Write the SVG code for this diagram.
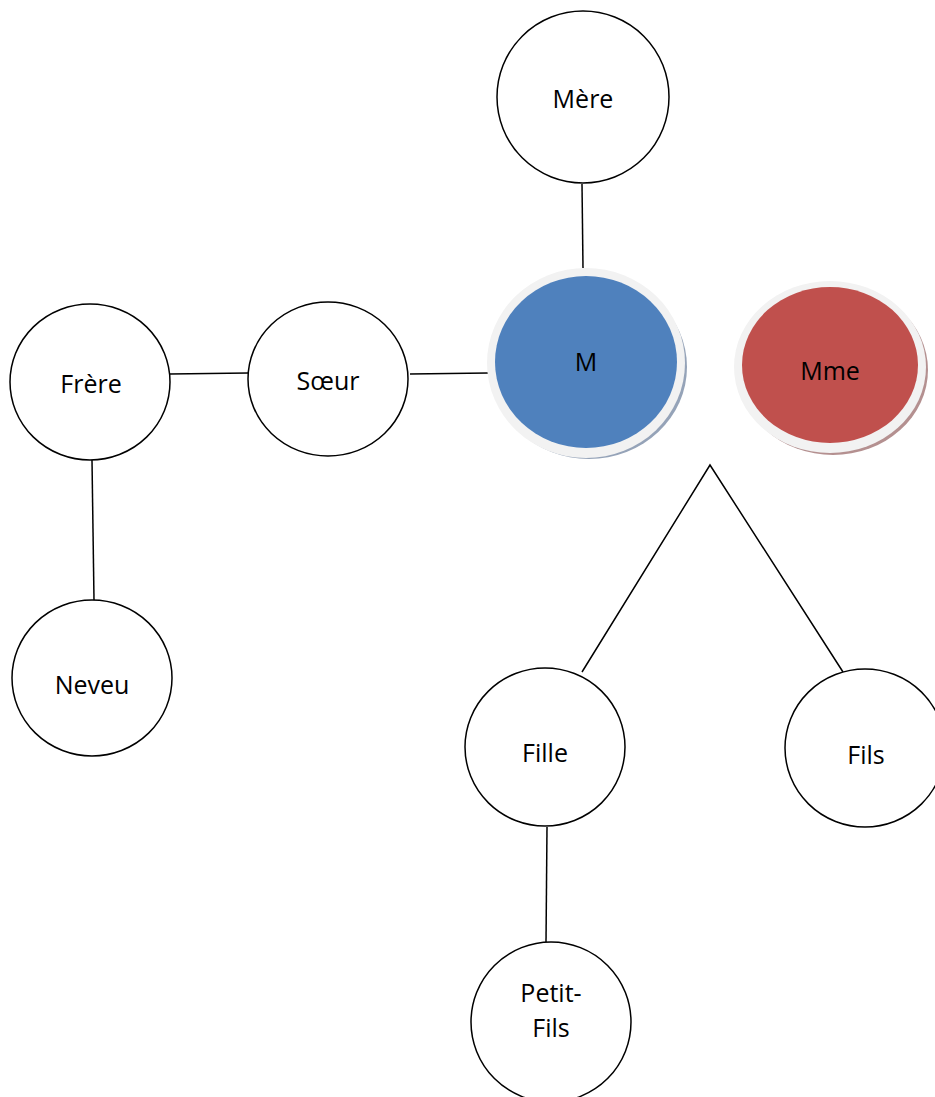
<svg xmlns="http://www.w3.org/2000/svg" width="935" height="1097" viewBox="0 0 935 1097">
<defs>
<style>
.n{fill:#fff;stroke:#000;stroke-width:1.5}
.t{font-family:"Open Sans","Noto Sans",sans-serif;font-size:25px;fill:#000;text-anchor:middle}
.c{stroke:#000;stroke-width:1.5;fill:none}
.ring{fill:#f2f2f2}
</style>
</defs>
<rect width="935" height="1097" fill="#fff"/>
<g id="connectors">
<line class="c" x1="582" y1="184" x2="583" y2="268"/>
<line class="c" x1="170" y1="374" x2="248" y2="373"/>
<line class="c" x1="410" y1="374" x2="488" y2="373"/>
<line class="c" x1="92" y1="460" x2="94" y2="600"/>
<polyline class="c" points="582,672 710,465 843,672"/>
<line class="c" x1="547" y1="827" x2="546" y2="942"/>
</g>
<g id="mere"><ellipse class="n" cx="583" cy="97" rx="86" ry="86"/><text class="t" x="583" y="108">Mère</text></g>
<g id="m">
<ellipse cx="589" cy="367" rx="98" ry="92" fill="#95a3b8"/>
<ellipse class="ring" cx="586" cy="363" rx="99" ry="95"/>
<ellipse cx="586" cy="362" rx="91" ry="86" fill="#4f81bd"/>
<text class="t" x="586" y="371">M</text></g>
<g id="mme">
<ellipse cx="833" cy="370" rx="95" ry="85" fill="#b49090"/>
<ellipse class="ring" cx="830" cy="367" rx="96" ry="86"/>
<ellipse cx="830" cy="365" rx="88" ry="78" fill="#c0504d"/>
<text class="t" x="830" y="380">Mme</text></g>
<g id="frere"><ellipse class="n" cx="90" cy="382" rx="80" ry="78"/><text class="t" x="91" y="393">Frère</text></g>
<g id="soeur"><ellipse class="n" cx="328" cy="379" rx="80" ry="77"/><text class="t" x="328" y="390">Sœur</text></g>
<g id="neveu"><ellipse class="n" cx="92" cy="678" rx="80" ry="78"/><text class="t" x="92" y="694">Neveu</text></g>
<g id="fille"><ellipse class="n" cx="545" cy="747" rx="80" ry="79"/><text class="t" x="545" y="762">Fille</text></g>
<g id="fils"><ellipse class="n" cx="865" cy="748" rx="80" ry="79"/><text class="t" x="866" y="764">Fils</text></g>
<g id="petitfils"><ellipse class="n" cx="551" cy="1022" rx="80" ry="80"/><text class="t" x="551" y="1002">Petit-</text><text class="t" x="551" y="1037">Fils</text></g>
</svg>
